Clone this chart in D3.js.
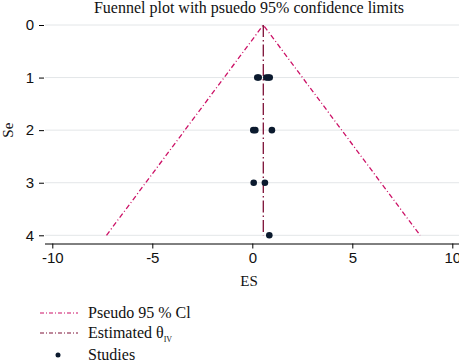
<!DOCTYPE html>
<html>
<head>
<meta charset="utf-8">
<script src="https://cdn.jsdelivr.net/npm/d3@7"></script>
<style>
  body { margin: 0; background: #fff; }
  svg { display: block; font-family: "Liberation Serif", "DejaVu Serif", serif; }
</style>
</head>
<body>
<div id="chart"></div>
<script>
const title = "Fuennel plot with psuedo 95% confidence limits";
const xTicks = [-10, -5, 0, 5, 10];
const yTicks = [0, 1, 2, 3, 4];
const thetaIV = 0.55;
const studyES = [0.25, 0.32, 0.7, 0.8, 0.87, 0.05, 0.15, 0.98, 0.07, 0.63, 0.85];
const studySE = [1, 1, 1, 1, 1, 2, 2, 2, 3, 3, 4];
const legendLabels = ["Pseudo 95 % Cl", "Estimated θ", "Studies"];

const width = 459, height = 361;
const margin = { top: 25, right: 0, bottom: 126, left: 45 };

const svg = d3.select("#chart").append("svg")
    .attr("width", width)
    .attr("height", height);

const x = d3.scaleLinear().domain([-10, 10]).range([52.3, 452.3]);
const y = d3.scaleLinear().domain([0, 4]).range([margin.top, 235.3]);
const axisY = 243.5;

// gridlines
svg.append("g").selectAll("line")
    .data(yTicks)
    .join("line")
    .attr("x1", margin.left).attr("x2", width)
    .attr("y1", d => y(d)).attr("y2", d => y(d))
    .attr("stroke", "#e3e6e8").attr("stroke-width", 1);

// x axis
const xg = svg.append("g")
    .attr("transform", `translate(0, ${axisY})`)
    .call(d3.axisBottom(x).tickValues(xTicks).tickSize(5).tickPadding(4).tickFormat(d => String(d)));
xg.select(".domain").attr("d", `M${margin.left},0.5H${width}`).attr("stroke", "#000");
xg.selectAll("text").attr("font-size", 15).attr("font-family", null).attr("fill", "#111");
xg.selectAll(".tick line").attr("stroke", "#000");

// y axis
const yg = svg.append("g")
    .attr("transform", `translate(${margin.left}, 0)`)
    .call(d3.axisLeft(y).tickValues(yTicks).tickSize(5).tickPadding(6).tickFormat(d => String(d)));
yg.select(".domain").remove();
yg.selectAll("text").attr("font-size", 15).attr("font-family", null).attr("fill", "#111");
yg.selectAll(".tick line").attr("stroke", "#000").attr("transform", "translate(-1,0)");

// axis titles
svg.append("text")
    .attr("x", 249).attr("y", 286)
    .attr("text-anchor", "middle")
    .attr("font-size", 15).attr("fill", "#111")
    .text("ES");
svg.append("text")
    .attr("transform", `translate(13, ${y(2)}) rotate(-90)`)
    .attr("text-anchor", "middle")
    .attr("font-size", 15).attr("fill", "#111")
    .text("Se");

// title
svg.append("text")
    .attr("x", 249).attr("y", 13)
    .attr("text-anchor", "middle")
    .attr("font-size", 16).attr("fill", "#111")
    .text(title);

// funnel limits
const funnelColor = "#cc1166";
const thetaColor = "#7d1036";
const ciDash = "5,2.5,1,2.5";
const thetaDash = "12,3,1.5,3";
const line = d3.line().x(d => x(d[0])).y(d => y(d[1]));
const seMax = d3.max(yTicks);
svg.append("path")
    .datum([[thetaIV - 1.96 * seMax, seMax], [thetaIV, 0], [thetaIV + 1.96 * seMax, seMax]])
    .attr("d", line)
    .attr("fill", "none")
    .attr("stroke", funnelColor)
    .attr("stroke-width", 1.3)
    .attr("stroke-dasharray", ciDash);

// estimated theta
svg.append("path")
    .datum([[thetaIV, 0], [thetaIV, seMax]])
    .attr("d", line)
    .attr("fill", "none")
    .attr("stroke", thetaColor)
    .attr("stroke-width", 1.3)
    .attr("stroke-dasharray", thetaDash);

// studies
const pointColor = "#0b1a2e";
svg.append("g").selectAll("circle")
    .data(studyES.map((d, i) => [d, studySE[i]]))
    .join("circle")
    .attr("cx", d => x(d[0]))
    .attr("cy", d => y(d[1]))
    .attr("r", 3.3)
    .attr("fill", pointColor);

// legend
const legend = svg.append("g");
const rows = [
    { y: 313, color: funnelColor, dash: "4,2,1,2" },
    { y: 333, color: thetaColor, dash: "4,2,1,2" },
    { y: 355, color: null }
];
rows.forEach((r, i) => {
    if (r.color) {
        legend.append("line")
            .attr("x1", 40).attr("x2", 78)
            .attr("y1", r.y).attr("y2", r.y)
            .attr("stroke", r.color)
            .attr("stroke-width", 1)
            .attr("stroke-dasharray", r.dash);
    } else {
        legend.append("circle")
            .attr("cx", 58).attr("cy", r.y)
            .attr("r", 2.5)
            .attr("fill", pointColor);
    }
    const t = legend.append("text")
        .attr("x", 88).attr("y", r.y + 5)
        .attr("font-size", 16).attr("fill", "#111")
        .text(legendLabels[i]);
    if (i === 1) {
        t.append("tspan")
            .attr("font-size", 8)
            .attr("dy", 4)
            .text("IV");
    }
});
</script>
</body>
</html>
